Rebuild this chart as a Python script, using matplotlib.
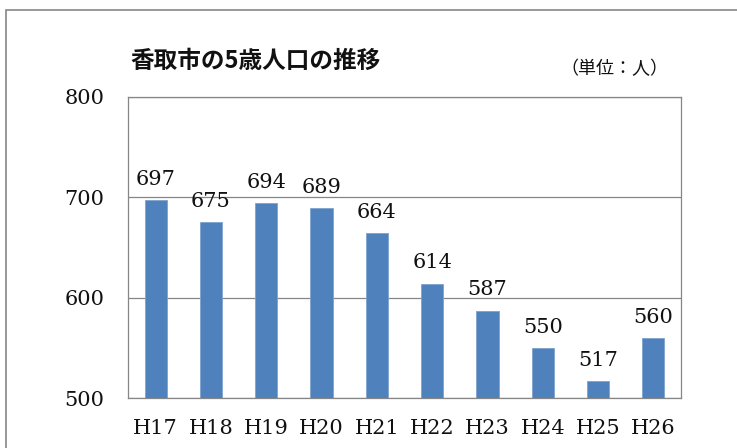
import matplotlib
matplotlib.use("Agg")
import matplotlib.pyplot as plt
from matplotlib.patches import Rectangle

# Data
years = ["H17", "H18", "H19", "H20", "H21", "H22", "H23", "H24", "H25", "H26"]
counts = [697, 675, 694, 689, 664, 614, 587, 550, 517, 560]
yticks = [500, 600, 700, 800]

title = "香取市の5歳人口の推移"
unit = "（単位：人）"

jp_font = ["Noto Sans CJK JP", "DejaVu Sans"]
serif = ["DejaVu Serif"]
gray = "#868686"

fig = plt.figure(figsize=(7.37, 4.48), dpi=100)
fig.patch.set_facecolor("white")

# outer chart frame (runs off right/bottom edges)
fig.patches.append(Rectangle((6 / 737, -0.05), 1.2, (448 - 10) / 448 + 0.05,
                             transform=fig.transFigure, fill=False,
                             edgecolor=gray, linewidth=1.2))

ax = fig.add_axes([128 / 737, 1 - 398 / 448, (681 - 128) / 737, (398 - 97) / 448])
x = range(len(years))
ax.bar(x, counts, width=0.40, color="#4f81bd", edgecolor="#7ea3d0",
       linewidth=0.6, zorder=3)

for xi, v in zip(x, counts):
    ax.annotate(str(v), (xi, v), xytext=(0, 11), textcoords="offset points",
                ha="center", va="baseline", fontsize=15, family=serif,
                color="#111111")

ax.set_ylim(500, 800)
ax.set_xlim(-0.5, len(years) - 0.5)
ax.set_yticks(yticks)
ax.set_yticklabels([str(t) for t in yticks], family=serif, fontsize=15)
ax.set_xticks(list(x))
ax.set_xticklabels(years, family=serif, fontsize=15)
ax.tick_params(axis="both", length=0, colors="#111111")
ax.tick_params(axis="y", pad=17)
ax.tick_params(axis="x", pad=15)
ax.grid(axis="y", color=gray, linewidth=0.9, zorder=0)
for spine in ax.spines.values():
    spine.set_color(gray)
    spine.set_linewidth(0.9)

fig.text(130 / 737, 1 - 61 / 448, title, family=jp_font, fontsize=17,
         fontweight="bold", va="center", ha="left", color="#111111")
fig.text(668 / 737, 1 - 69 / 448, unit, family=jp_font, fontsize=13,
         va="center", ha="right", color="#111111")

fig.savefig("out.png", dpi=100, facecolor="white")
